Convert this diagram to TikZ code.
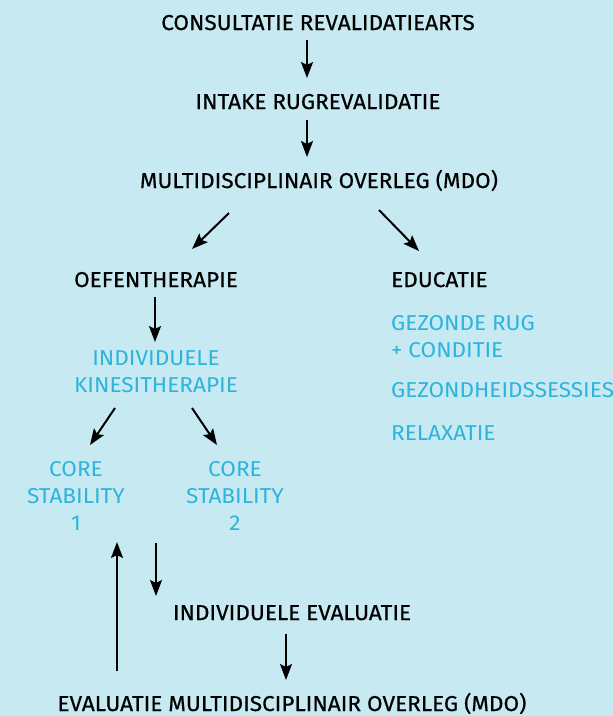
\documentclass[tikz,border=0pt]{standalone}
\usepackage{fontspec}
\setmainfont{Fira Sans}[FakeStretch=1.05]
\newfontfamily\medfont{Fira Sans}[FakeStretch=1.05, FakeBold=0.5]
\usetikzlibrary{arrows.meta, positioning}
\definecolor{RVbg}{RGB}{199, 233, 242}
\definecolor{RVcyan}{RGB}{45, 180, 220}
\tikzset{
    every node/.style={font=\fontsize{21.5}{27}\selectfont, inner sep=0pt, anchor=base},
    step label/.style={font=\fontsize{21.5}{27}\selectfont\medfont, text=black},
    sub label/.style={text=RVcyan, align=center},
    flow/.style={-{Stealth[length=16pt, width=12pt, inset=3pt]}, line width=2pt},
}

\begin{document}
\begin{tikzpicture}[x=1pt, y=-1pt]
    \fill [RVbg] (0,0) rectangle (613,716);
    \useasboundingbox (0,0) rectangle (613,716);

    % hoofdlijn
    \node [step label] (consult) at (318,30) {CONSULTATIE REVALIDATIEARTS};
    \node [step label] (intake) at (318,109) {INTAKE RUGREVALIDATIE};
    \node [step label] (mdo) at (319,188) {MULTIDISCIPLINAIR OVERLEG (MDO)};
    \node [step label] (oefen) at (156,287) {OEFENTHERAPIE};
    \node [step label, anchor=base west] (educ) at (391,287) {EDUCATIE};

    % oefentherapie (basislijn van de laatste regel)
    \node [sub label] (indiv) at (156,392) {INDIVIDUELE\\KINESITHERAPIE};
    \node [sub label] (core1) at (76,530) {CORE\\STABILITY\\1};
    \node [sub label] (core2) at (235,530) {CORE\\STABILITY\\2};

    % educatie
    \node [sub label, align=left, anchor=base west] (rug) at (391,357) {GEZONDE RUG\\+ CONDITIE};
    \node [sub label, anchor=base west] (sessies) at (391,397) {GEZONDHEIDSSESSIES};
    \node [sub label, anchor=base west] (relax) at (391,440) {RELAXATIE};

    % evaluatie
    \node [step label] (indeval) at (292,620) {INDIVIDUELE EVALUATIE};
    \node [step label] (evalmdo) at (292,711) {EVALUATIE MULTIDISCIPLINAIR OVERLEG (MDO)};

    % pijlen
    \coordinate (c1a) at (307,40);  \coordinate (c1b) at (307,78);
    \coordinate (c2a) at (307,120); \coordinate (c2b) at (307,157);
    \coordinate (c3a) at (229,213); \coordinate (c3b) at (192,249);
    \coordinate (c4a) at (379,210); \coordinate (c4b) at (419,251);
    \coordinate (c5a) at (155,297); \coordinate (c5b) at (155,342);
    \coordinate (c6a) at (115,408); \coordinate (c6b) at (90,445);
    \coordinate (c7a) at (192,408); \coordinate (c7b) at (217,445);
    \coordinate (c8a) at (117,671); \coordinate (c8b) at (117,542);
    \coordinate (c9a) at (156,543); \coordinate (c9b) at (156,596);
    \coordinate (c10a) at (286,634); \coordinate (c10b) at (286,680);

    \foreach \from/\to in {c1a/c1b, c2a/c2b, c3a/c3b, c4a/c4b, c5a/c5b,
                           c6a/c6b, c7a/c7b, c8a/c8b, c9a/c9b, c10a/c10b}
        \draw [flow] (\from) -- (\to);
\end{tikzpicture}
\end{document}
